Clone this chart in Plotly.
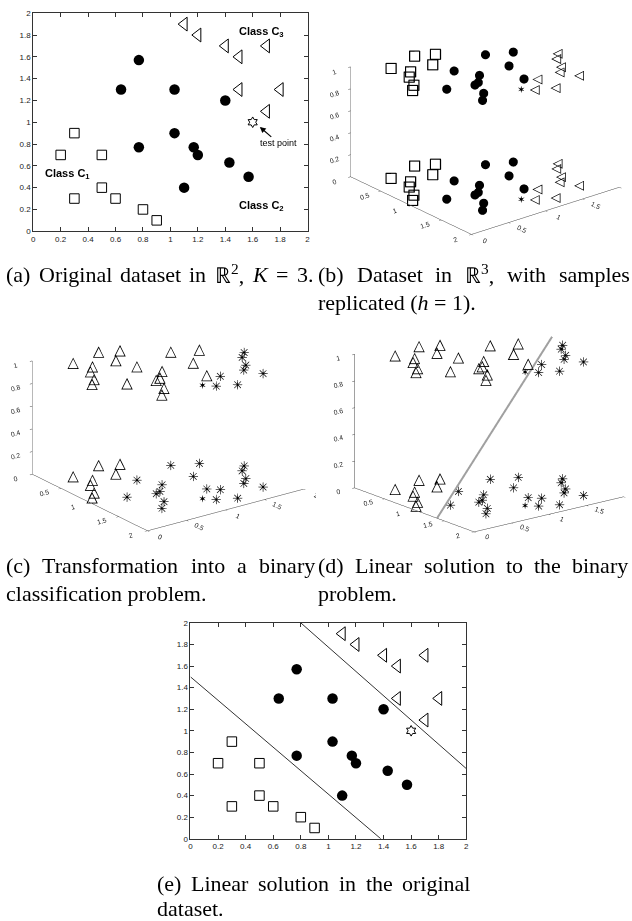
import math
import plotly.graph_objects as go

# ---------------- data ----------------
c1_x = [0.2, 0.3, 0.3, 0.5, 0.5, 0.6, 0.8, 0.9]
c1_y = [0.7, 0.9, 0.3, 0.7, 0.4, 0.3, 0.2, 0.1]
c2_x = [0.64, 0.77, 0.77, 1.03, 1.03, 1.10, 1.17, 1.20, 1.40, 1.43, 1.57]
c2_y = [1.30, 1.57, 0.77, 1.30, 0.90, 0.40, 0.77, 0.70, 1.20, 0.63, 0.50]
c3_x = [1.1, 1.2, 1.4, 1.5, 1.7, 1.5, 1.8, 1.7]
c3_y = [1.9, 1.8, 1.7, 1.6, 1.7, 1.3, 1.3, 1.1]
test_x = [1.6]
test_y = [1.0]
h_levels = [0, 1]                     # replication heights (h = 1)

line1_x = [0.0, 1.38]                 # lower separating line in (e)
line1_y = [1.5, 0.0]
line2_x = [0.8, 2.0]                  # upper separating line in (e)
line2_y = [2.0, 0.65]
plane_x1 = [1.438, 0.742]             # hyperplane in R^3 (seen edge-on) in (d)
plane_x2 = [-0.2, 2.2]
plane_z = [-0.1, 1.1]

tick2d = [0, 0.2, 0.4, 0.6, 0.8, 1, 1.2, 1.4, 1.6, 1.8, 2]
tick2d_text = ["0", "0.2", "0.4", "0.6", "0.8", "1", "1.2", "1.4", "1.6", "1.8", "2"]
tick3d_xy = [0, 0.5, 1, 1.5, 2]
tick3d_xy_text = ["0", "0.5", "1", "1.5", "2"]
tick3d_z = [0, 0.2, 0.4, 0.6, 0.8, 1]
tick3d_z_text = ["0", "0.2", "0.4", "0.6", "0.8", "1"]

W, H = 632, 921
TICKFONT = dict(family="Liberation Sans, Arial, sans-serif", size=8, color="#222")
TICKFONT3D = dict(family="Liberation Sans, Arial, sans-serif", size=9, color="#222")
CAP_SIZE = 22
CAPFONT = dict(family="Liberation Serif, Times New Roman, serif", size=CAP_SIZE, color="#000")

fig = go.Figure()

# ---------------- 2-D panels (a) and (e) ----------------
for xa, ya in (("x", "y"), ("x2", "y2")):
    fig.add_trace(go.Scatter(x=c1_x, y=c1_y, mode="markers", xaxis=xa, yaxis=ya,
                             marker=dict(symbol="square-open", size=9.5, color="#000",
                                         line=dict(width=1, color="#000"))))
    fig.add_trace(go.Scatter(x=c2_x, y=c2_y, mode="markers", xaxis=xa, yaxis=ya,
                             marker=dict(symbol="circle", size=10.5, color="#000")))
    fig.add_trace(go.Scatter(x=c3_x, y=c3_y, mode="markers", xaxis=xa, yaxis=ya,
                             marker=dict(symbol="triangle-left-open", size=12, color="#000",
                                         line=dict(width=1, color="#000"))))
    fig.add_trace(go.Scatter(x=test_x, y=test_y, mode="markers", xaxis=xa, yaxis=ya,
                             marker=dict(symbol="hexagram-open", size=8, color="#000",
                                         line=dict(width=1, color="#000"))))

fig.add_trace(go.Scatter(x=line1_x, y=line1_y, mode="lines", xaxis="x2", yaxis="y2",
                         line=dict(color="#333", width=1)))
fig.add_trace(go.Scatter(x=line2_x, y=line2_y, mode="lines", xaxis="x2", yaxis="y2",
                         line=dict(color="#333", width=1)))


# ---------------- 3-D panels (b), (c), (d) ----------------
def text3d(scene, xs, ys, zs, glyph, size):
    return go.Scatter3d(x=xs, y=ys, z=zs, mode="text", text=[glyph] * len(xs),
                        textposition="middle center", scene=scene,
                        textfont=dict(family="DejaVu Sans", size=size, color="#000"))


def mark3d(scene, xs, ys, zs, symbol, size):
    return go.Scatter3d(x=xs, y=ys, z=zs, mode="markers", scene=scene,
                        marker=dict(symbol=symbol, size=size, color="#000",
                                    line=dict(width=1, color="#000")))


def stack(vals_list):
    out = []
    for v in vals_list:
        out += list(v)
    return out


# (b): every sample replicated at z = 0 and z = 1
for zlev in h_levels:
    fig.add_trace(mark3d("scene", c1_x, c1_y, [zlev] * len(c1_x), "square-open", 4.5))
    fig.add_trace(mark3d("scene", c2_x, c2_y, [zlev] * len(c2_x), "circle", 5))
    fig.add_trace(text3d("scene", c3_x, c3_y, [zlev] * len(c3_x), "\u25C1", 13))
    fig.add_trace(text3d("scene", test_x, test_y, [zlev], "\u2736", 10))

# (c) and (d): the binary problem
for sc in ("scene2", "scene3"):
    # z = 0 : C1 vs (C2, C3)
    fig.add_trace(text3d(sc, c1_x, c1_y, [h_levels[0]] * len(c1_x), "\u25B3", 15))
    bx = stack([c2_x, c3_x]); by = stack([c2_y, c3_y])
    fig.add_trace(text3d(sc, bx, by, [h_levels[0]] * len(bx), "\u2733", 13))
    # z = 1 : (C1, C2) vs C3
    ax_ = stack([c1_x, c2_x]); ay_ = stack([c1_y, c2_y])
    fig.add_trace(text3d(sc, ax_, ay_, [h_levels[1]] * len(ax_), "\u25B3", 15))
    fig.add_trace(text3d(sc, c3_x, c3_y, [h_levels[1]] * len(c3_x), "\u2733", 13))
    for zlev in h_levels:
        fig.add_trace(text3d(sc, test_x, test_y, [zlev], "\u2736", 10))

fig.add_trace(go.Scatter3d(x=plane_x1, y=plane_x2, z=plane_z, mode="lines", scene="scene3",
                           line=dict(color="#a0a0a0", width=4)))

fig.update_traces(hoverinfo="skip", showlegend=False)


# ---------------- layout ----------------
def ax2d(domain, anchor):
    return dict(domain=domain, anchor=anchor, range=[0, 2], tickvals=tick2d, ticktext=tick2d_text,
                ticks="inside", ticklen=4, tickcolor="#333", showline=True, linecolor="#333",
                linewidth=1, mirror="ticks", showgrid=False, zeroline=False, tickfont=TICKFONT,
                fixedrange=True)


def ax3d(rng, vals, texts):
    return dict(range=rng, autorange=False, tickvals=vals, ticktext=texts, showgrid=False,
                zeroline=False, showbackground=False, showline=True, linecolor="#444",
                linewidth=1, ticks="outside", ticklen=3, tickcolor="#444", tickfont=TICKFONT3D,
                showspikes=False, title=dict(text=""))


def py(px_from_top):
    return 1 - px_from_top / H


def scene(xdom, ytop, ybot, az_deg, el_deg, zasp, scale, shift_px, px_per_unit):
    phi, th = math.radians(az_deg), math.radians(el_deg)
    view = (math.cos(th) * math.cos(phi), math.cos(th) * math.sin(phi), math.sin(th))
    right = (-math.sin(phi), math.cos(phi), 0.0)
    up = (-math.sin(th) * math.cos(phi), -math.sin(th) * math.sin(phi), math.cos(th))
    dx, dy = shift_px
    c = [(-dx * right[i] + dy * up[i]) / px_per_unit for i in range(3)]
    D = 2.0
    eye = [D * view[i] + c[i] for i in range(3)]
    return dict(domain=dict(x=xdom, y=[py(ybot), py(ytop)]),
                xaxis=ax3d([0, 2], tick3d_xy, tick3d_xy_text),
                yaxis=ax3d([0, 2], tick3d_xy, tick3d_xy_text),
                zaxis=ax3d([0, 1], tick3d_z, tick3d_z_text),
                aspectmode="manual", aspectratio=dict(x=scale, y=scale, z=zasp * scale),
                camera=dict(eye=dict(x=eye[0], y=eye[1], z=eye[2]), up=dict(x=0, y=0, z=1),
                            center=dict(x=c[0], y=c[1], z=c[2]),
                            projection=dict(type="orthographic")),
                bgcolor="rgba(0,0,0,0)")


fig.update_layout(
    width=W, height=H, autosize=False, margin=dict(l=0, r=0, t=0, b=0),
    paper_bgcolor="white", plot_bgcolor="white", showlegend=False,
    xaxis=ax2d([31.5 / W, 308 / W], "y"),
    yaxis=ax2d([py(229.5), py(9.3)], "x"),
    xaxis2=ax2d([190 / W, 468 / W], "y2"),
    yaxis2=ax2d([py(843), py(625)], "x2"),
    scene=scene([0.51, 1.0], 0, 255, -39.27, 22.96, 0.625, 1.51, (9.5, -3.5), 127),
    scene2=scene([0.0, 0.5], 295, 555, -36.4, 21.2, 0.627, 1.51, (9.0, 0.5), 128.7),
    scene3=scene([0.5, 1.0], 295, 555, -38.6, 17.1, 0.73, 1.49, (16.0, 1.0), 127),
)

BOLD = dict(family="Liberation Sans, Arial, sans-serif", size=11, color="#000")
ann = [
    dict(x=1.667, y=1.827, xref="x", yref="y", text="<b>Class C<sub>3</sub></b>", showarrow=False, font=BOLD),
    dict(x=0.253, y=0.524, xref="x", yref="y", text="<b>Class C<sub>1</sub></b>", showarrow=False, font=BOLD),
    dict(x=1.667, y=0.236, xref="x", yref="y", text="<b>Class C<sub>2</sub></b>", showarrow=False, font=BOLD),
    dict(x=1.652, y=0.957, xref="x", yref="y", ax=1.79, ay=0.806, axref="x", ayref="y",
         text="test point", showarrow=True, arrowhead=2, arrowsize=1, arrowwidth=1.2,
         arrowcolor="#000", font=dict(family="Liberation Sans, Arial, sans-serif", size=9, color="#000")),
]

# ---------------- captions (justified like the LaTeX original) ----------------
TIMES = {' ': 250, '(': 333, ')': 333, 'a': 444, 'b': 500, 'c': 444, 'd': 500, 'e': 444, 'f': 333,
         'g': 500, 'h': 500, 'i': 278, 'j': 278, 'k': 500, 'l': 278, 'm': 778, 'n': 500, 'o': 500,
         'p': 500, 'q': 500, 'r': 333, 's': 389, 't': 278, 'u': 500, 'v': 500, 'w': 722, 'x': 500,
         'y': 500, 'z': 444, 'D': 722, 'K': 722, 'L': 611, 'O': 722, 'T': 611, '.': 250, ',': 250,
         '=': 564, '1': 500, '2': 500, '3': 500, 'R': 722, '^': 350}


def tw(s):
    return sum(TIMES.get(ch, 500) for ch in s) * CAP_SIZE / 1000.0


# (x_left, x_right or None, y_center, [(html, plain-for-width), ...])
cap_lines = [
    (3, 313, 273, [("(a)", "(a)"), ("Original", "Original"), ("dataset", "dataset"), ("in", "in"),
                   ("\u211D<sup>2</sup>,", "R^,"), ("<i>K</i>", "K"), ("=", "="), ("3.", "3.")]),
    (318, 631, 273, [("(b)", "(b)"), ("Dataset", "Dataset"), ("in", "in"),
                     ("\u211D<sup>3</sup>,", "R^,"), ("with", "with"), ("samples", "samples")]),
    (318, None, 301, [("replicated (<i>h</i> = 1).", "")]),
    (3, 314, 567, [("(c)", "(c)"), ("Transformation", "Transformation"), ("into", "into"),
                   ("a", "a"), ("binary", "binary")]),
    (3, None, 595, [("classification problem.", "")]),
    (318, 630, 567, [("(d)", "(d)"), ("Linear", "Linear"), ("solution", "solution"), ("to", "to"),
                     ("the", "the"), ("binary", "binary")]),
    (318, None, 595, [("problem.", "")]),
    (155, 471, 888, [("(e)", "(e)"), ("Linear", "Linear"), ("solution", "solution"), ("in", "in"),
                     ("the", "the"), ("original", "original")]),
    (155, None, 913, [("dataset.", "")]),
]
for x0, x1, yc, words in cap_lines:
    if x1 is None:
        positions = [x0]
    else:
        total = sum(tw(p) for _, p in words)
        gap = (x1 - x0 - total) / (len(words) - 1)
        positions, cur = [], x0
        for _, p in words:
            positions.append(cur)
            cur += tw(p) + gap
    for (html, _), xpos in zip(words, positions):
        ann.append(dict(x=xpos / W, y=py(yc), xref="paper", yref="paper", xanchor="left",
                        yanchor="middle", text=html, showarrow=False, font=CAPFONT, borderpad=0))

fig.update_layout(annotations=ann)
fig.write_html("out.html", config={"displayModeBar": False, "staticPlot": False},
               post_script="document.body.style.margin='0px';document.body.style.padding='0px';"
                           "document.body.style.overflow='hidden';")
